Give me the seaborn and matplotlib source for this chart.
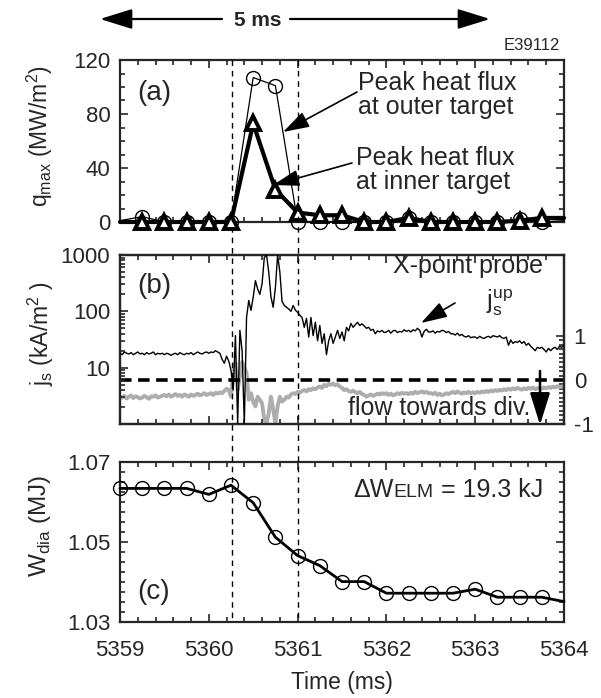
import numpy as np
import pandas as pd
import matplotlib
matplotlib.use("Agg")
import matplotlib.pyplot as plt
import seaborn as sns
import matplotlib.transforms as mtransforms
from matplotlib.lines import Line2D
from matplotlib.patches import FancyArrowPatch
from matplotlib.ticker import MultipleLocator, FixedLocator, FixedFormatter, LogLocator, NullFormatter

# ---------------- data ----------------
t_flux = [5359.0, 5359.25, 5359.5, 5359.75, 5360.0, 5360.25, 5360.5, 5360.75, 5361.0,
          5361.25, 5361.5, 5361.75, 5362.0, 5362.25, 5362.5, 5362.75, 5363.0, 5363.25,
          5363.5, 5363.75, 5364.0]
q_outer = [1, 4, 0, 0, 0, 0, 107, 101, 0, 0, 0, 0, 0, 3, 0, 0, 0, 0, 2, 0, 1]
q_inner = [0, 0, 0, 0, 0, 0, 73, 24, 7, 5, 5, 0, 0, 3, 0, 0, 0, 0, 1, 3, 3]

w_dia = [1.0634, 1.0634, 1.0634, 1.0634, 1.0619, 1.0642, 1.0598, 1.0512, 1.0466, 1.0441,
         1.0401, 1.0401, 1.0372, 1.0372, 1.0372, 1.0372, 1.0382, 1.0362, 1.0362, 1.0362, 1.0351]

t_probe = np.linspace(5359.0, 5364.0, 201)
js_up = [18, 17, 19, 18, 17.5, 18.5, 17, 18, 19, 17.5,
         18, 17, 18.5, 17.5, 18, 19, 17, 18, 17.5, 18,
         17, 18, 17.5, 16.5, 17.5, 18, 17, 18.5, 17.5, 17,
         18, 17.5, 18.5, 17, 18, 19, 18, 17.5, 18.5, 19,
         18, 19, 18.5, 20, 19, 18, 14, 12, 16, 13,
         9, 4, 37, 1.0, 46, 20, 1.0, 78, 156, 104,
         178, 350, 250, 200, 310, 900, 1000, 500, 180, 118,
         265, 1000, 500, 150, 127, 118, 110, 100, 127, 105,
         96, 85, 78, 52, 75, 35, 78, 37, 64, 30,
         56, 27, 40, 17, 30, 40, 27, 35, 46, 33,
         43, 30, 52, 45, 61, 52, 58, 64, 56, 60,
         55, 50, 52, 46, 48, 40, 45, 43, 46, 42,
         43, 46, 41, 45, 46, 42, 44, 43, 47, 44,
         46, 43, 47, 45, 50, 46, 35, 44, 48, 43,
         43, 45, 41, 44, 43, 46, 45, 42, 44, 40,
         40, 38, 41, 37, 39, 36, 35, 37, 34, 35,
         35, 33, 36, 34, 33, 35, 36, 34, 37, 36,
         35, 37, 34, 33, 35, 25, 31, 27, 29, 28,
         30, 27, 29, 25, 27, 24, 22, 20, 23, 22,
         23, 21, 19, 22, 20, 22, 23, 21, 24, 23, 25]
flow = [-0.38, -0.40, -0.36, -0.42, -0.38, -0.35, -0.41, -0.37, -0.39, -0.42,
        -0.40, -0.36, -0.39, -0.43, -0.37, -0.38, -0.35, -0.40, -0.38, -0.36,
        -0.34, -0.37, -0.33, -0.38, -0.35, -0.32, -0.36, -0.34, -0.38, -0.33,
        -0.35, -0.38, -0.33, -0.36, -0.34, -0.31, -0.35, -0.33, -0.30, -0.34,
        -0.32, -0.30, -0.34, -0.29, -0.31, -0.28, -0.30, -0.25, -0.20, -0.23,
        -0.38, 0.15, 0.38, -0.23, 0.07, 0.41, 0.30, 0.16, -0.45, -0.30,
        -0.50, -0.60, -0.38, -0.45, -0.53, -0.91, -1.00, -0.75, -0.38, -0.68,
        -0.98, -0.60, -0.38, -0.49, -0.45, -0.38, -0.40, -0.33, -0.30, -0.32,
        -0.27, -0.29, -0.25, -0.23, -0.26, -0.21, -0.23, -0.19, -0.21, -0.17,
        -0.15, -0.18, -0.11, -0.14, -0.09, -0.11, -0.08, -0.12, -0.10, -0.15,
        -0.18, -0.23, -0.21, -0.25, -0.27, -0.24, -0.28, -0.30, -0.27, -0.32,
        -0.34, -0.38, -0.35, -0.33, -0.36, -0.34, -0.31, -0.33, -0.30, -0.32,
        -0.30, -0.34, -0.31, -0.35, -0.33, -0.30, -0.32, -0.29, -0.31, -0.30,
        -0.32, -0.29, -0.31, -0.27, -0.30, -0.28, -0.26, -0.29, -0.27, -0.30,
        -0.30, -0.32, -0.29, -0.34, -0.31, -0.35, -0.33, -0.30, -0.32, -0.29,
        -0.27, -0.30, -0.26, -0.29, -0.31, -0.28, -0.30, -0.27, -0.30, -0.28,
        -0.30, -0.27, -0.29, -0.26, -0.28, -0.25, -0.27, -0.24, -0.26, -0.23,
        -0.25, -0.22, -0.24, -0.21, -0.23, -0.20, -0.22, -0.19, -0.21, -0.18,
        -0.20, -0.22, -0.19, -0.21, -0.18, -0.20, -0.17, -0.21, -0.19, -0.18,
        -0.20, -0.17, -0.19, -0.16, -0.18, -0.15, -0.17, -0.14, -0.16, -0.15, -0.14]

elm_lines = [5360.26, 5361.0]
x_ticks = [5359, 5360, 5361, 5362, 5363, 5364]
x_ticklabels = ["5359", "5360", "5361", "5362", "5363", "5364"]

# ---------------- style ----------------
sns.set_theme(style="ticks")
plt.rcParams["font.family"] = ["Liberation Sans", "DejaVu Sans"]
plt.rcParams["mathtext.fontset"] = "custom"
plt.rcParams["mathtext.rm"] = "Liberation Sans"
plt.rcParams["axes.unicode_minus"] = False
plt.rcParams["axes.linewidth"] = 1.5

W, H = 601, 698
fig = plt.figure(figsize=(W / 100, H / 100), dpi=100)


def fx(x):
    return x / W


def fy(y):
    return 1 - y / H


def axbox(top, bottom, left=120, right=564):
    return [fx(left), fy(bottom), (right - left) / W, (bottom - top) / H]


ax_a = fig.add_axes(axbox(60, 222))
ax_b = fig.add_axes(axbox(255, 424))
ax_c = fig.add_axes(axbox(462, 622))

TS = 16      # tick labels
FS = 18      # annotation text
LS = 16.5    # axis labels

for ax in (ax_a, ax_b, ax_c):
    ax.set_xlim(5359, 5364)
    ax.xaxis.set_major_locator(FixedLocator(x_ticks))
    ax.xaxis.set_minor_locator(MultipleLocator(0.2))
    ax.tick_params(which="both", direction="in", top=True, width=1.2, labelsize=TS)
    ax.tick_params(axis="y", which="both", pad=7)
    ax.tick_params(axis="x", which="both", pad=13)
    ax.tick_params(which="major", length=6)
    ax.tick_params(which="minor", length=3.5)
    for s in ax.spines.values():
        s.set_linewidth(1.6)

# ---------------- panel (a) ----------------
df_a = pd.DataFrame({"t": t_flux, "outer": q_outer, "inner": q_inner})
sns.lineplot(data=df_a, x="t", y="outer", ax=ax_a, color="black", lw=0.9,
             marker="o", markersize=10, markerfacecolor="none",
             markeredgecolor="black", markeredgewidth=1.0,
             markevery=list(range(1, 20)), clip_on=False, zorder=3, errorbar=None)
sns.lineplot(data=df_a, x="t", y="inner", ax=ax_a, color="black", lw=3,
             marker="^", markersize=10, markerfacecolor="white",
             markeredgecolor="black", markeredgewidth=2.8,
             markevery=list(range(1, 20)), clip_on=False, zorder=4, errorbar=None)
ax_a.set_ylim(0, 120)
ax_a.yaxis.set_major_locator(FixedLocator([0, 40, 80, 120]))
ax_a.yaxis.set_minor_locator(MultipleLocator(10))
ax_a.tick_params(which="both", right=True, labelbottom=False)
ax_a.set_xlabel("")
ax_a.set_ylabel(r"q$_{\mathregular{max}}$ (MW/m$^{\mathregular{2}}$)", fontsize=LS, va="center")
ax_a.yaxis.set_label_coords(fx(40), fy(136), transform=fig.transFigure)

# ---------------- panel (b) ----------------
ax_b.set_yscale("log")
sns.lineplot(x=t_probe, y=js_up, ax=ax_b, color="black", lw=1.0, errorbar=None, zorder=3)
ax_b.set_ylim(1, 1000)
ax_b.yaxis.set_major_locator(FixedLocator([10, 100, 1000]))
ax_b.yaxis.set_major_formatter(FixedFormatter(["10", "100", "1000"]))
ax_b.yaxis.set_minor_locator(LogLocator(base=10, subs=range(2, 10)))
ax_b.yaxis.set_minor_formatter(NullFormatter())
ax_b.tick_params(which="both", right=False, labelbottom=False)
ax_b.set_xlabel("")
ax_b.set_ylabel(r"j$_{\mathregular{s}}$ (kA/m$^{\mathregular{2}}$ )", fontsize=LS, va="center")
ax_b.yaxis.set_label_coords(fx(41), fy(334), transform=fig.transFigure)

ax_b2 = ax_b.twinx()
sns.lineplot(x=t_probe, y=flow, ax=ax_b2, color="#adadad", lw=2.8, errorbar=None)
ax_b2.axhline(0, color="black", lw=2.6, ls=(0, (3.2, 1.8)))
ax_b2.set_ylim(-1, 2.84)
ax_b2.yaxis.set_major_locator(FixedLocator([-1, 0, 1]))
ax_b2.yaxis.set_minor_locator(FixedLocator(np.arange(-1, 1.001, 0.1)))
ax_b2.tick_params(which="both", direction="in", width=1.2, labelsize=TS, right=True, pad=7)
ax_b2.tick_params(which="major", length=6)
ax_b2.tick_params(which="minor", length=3.5)
ax_b2.set_ylabel("")
ax_b2.set_xlabel("")
for s in ax_b2.spines.values():
    s.set_linewidth(1.6)
ax_b.set_zorder(ax_b2.get_zorder() + 1)
ax_b.patch.set_visible(False)

# ---------------- panel (c) ----------------
df_c = pd.DataFrame({"t": t_flux, "w": w_dia})
sns.lineplot(data=df_c, x="t", y="w", ax=ax_c, color="black", lw=2.0,
             marker="o", markersize=10, markerfacecolor="none",
             markeredgecolor="black", markeredgewidth=1.0,
             markevery=list(range(0, 20)), clip_on=False, zorder=3, errorbar=None)
ax_c.set_ylim(1.03, 1.07)
ax_c.yaxis.set_major_locator(FixedLocator([1.03, 1.05, 1.07]))
ax_c.yaxis.set_major_formatter(FixedFormatter(["1.03", "1.05", "1.07"]))
ax_c.yaxis.set_minor_locator(MultipleLocator(0.0025))
ax_c.tick_params(which="both", right=True)
ax_c.set_xticklabels(x_ticklabels)
ax_c.set_ylabel(r"W$_{\mathregular{dia}}$ (MJ)", fontsize=LS + 1, va="center")
ax_c.yaxis.set_label_coords(fx(40), fy(526), transform=fig.transFigure)
ax_c.set_xlabel("Time (ms)", fontsize=LS, va="center")
ax_c.xaxis.set_label_coords(fx(342), fy(682), transform=fig.transFigure)

# ---------------- ELM markers across panels ----------------
blend = mtransforms.blended_transform_factory(ax_c.transData, fig.transFigure)
for t in elm_lines:
    fig.add_artist(Line2D([t, t], [fy(60), fy(622)], transform=blend, color="black",
                          lw=1.0, ls=(0, (4, 3.5)), zorder=10))

# ---------------- annotations ----------------
arrow_kw = dict(arrowstyle="-|>,head_length=0.9,head_width=0.28", color="black", lw=1.2,
                mutation_scale=18, shrinkA=0, shrinkB=0)


def farrow(x0, y0, x1, y1, **kw):
    a = dict(arrow_kw)
    a.update(kw)
    fig.add_artist(FancyArrowPatch((fx(x0), fy(y0)), (fx(x1), fy(y1)),
                                   transform=fig.transFigure, **a))


# header
fig.text(fx(258), fy(20), "5 ms", fontsize=15, fontweight="bold", ha="center", va="center")
farrow(222, 19, 100, 19, lw=1.6, mutation_scale=22)
farrow(290, 19, 490, 19, lw=1.6, mutation_scale=22)
fig.text(fx(560), fy(46), "E39112", fontsize=12, ha="right", va="center")

# panel (a)
fig.text(fx(137), fy(93), "(a)", fontsize=20, ha="left", va="center")
fig.text(fx(358), fy(95), "Peak heat flux\nat outer target", fontsize=FS, ha="left",
         va="center", linespacing=1.0)
fig.text(fx(356), fy(170), "Peak heat flux\nat inner target", fontsize=FS, ha="left",
         va="center", linespacing=1.0)
farrow(357, 92, 283, 132)
farrow(352, 163, 273, 185)

# panel (b)
fig.text(fx(137), fy(286), "(b)", fontsize=20, ha="left", va="center")
fig.text(fx(543), fy(266), "X-point probe", fontsize=FS, ha="right", va="center")
fig.text(fx(486), fy(303), r"j$_{\mathregular{s}}^{\mathregular{up}}$", fontsize=FS,
         ha="left", va="center")
farrow(455, 303, 421, 323)
fig.text(fx(348), fy(408), "flow towards div.", fontsize=FS, ha="left", va="center")
farrow(540, 371, 540, 425, lw=1.8, mutation_scale=22)

# panel (c)
fig.text(fx(137), fy(592), "(c)", fontsize=20, ha="left", va="center")
t3 = fig.text(fx(543), fy(497), " = 19.3 kJ", fontsize=FS, ha="right", va="baseline")
t2 = ax_c.annotate("ELM", xy=(0, fy(497)), xycoords=(t3, fig.transFigure),
                   fontsize=14, ha="right", va="baseline", annotation_clip=False)
ax_c.annotate("\u0394W", xy=(0, fy(497)), xycoords=(t2, fig.transFigure),
              fontsize=FS, ha="right", va="baseline", annotation_clip=False)

fig.savefig("out.png", dpi=100)
